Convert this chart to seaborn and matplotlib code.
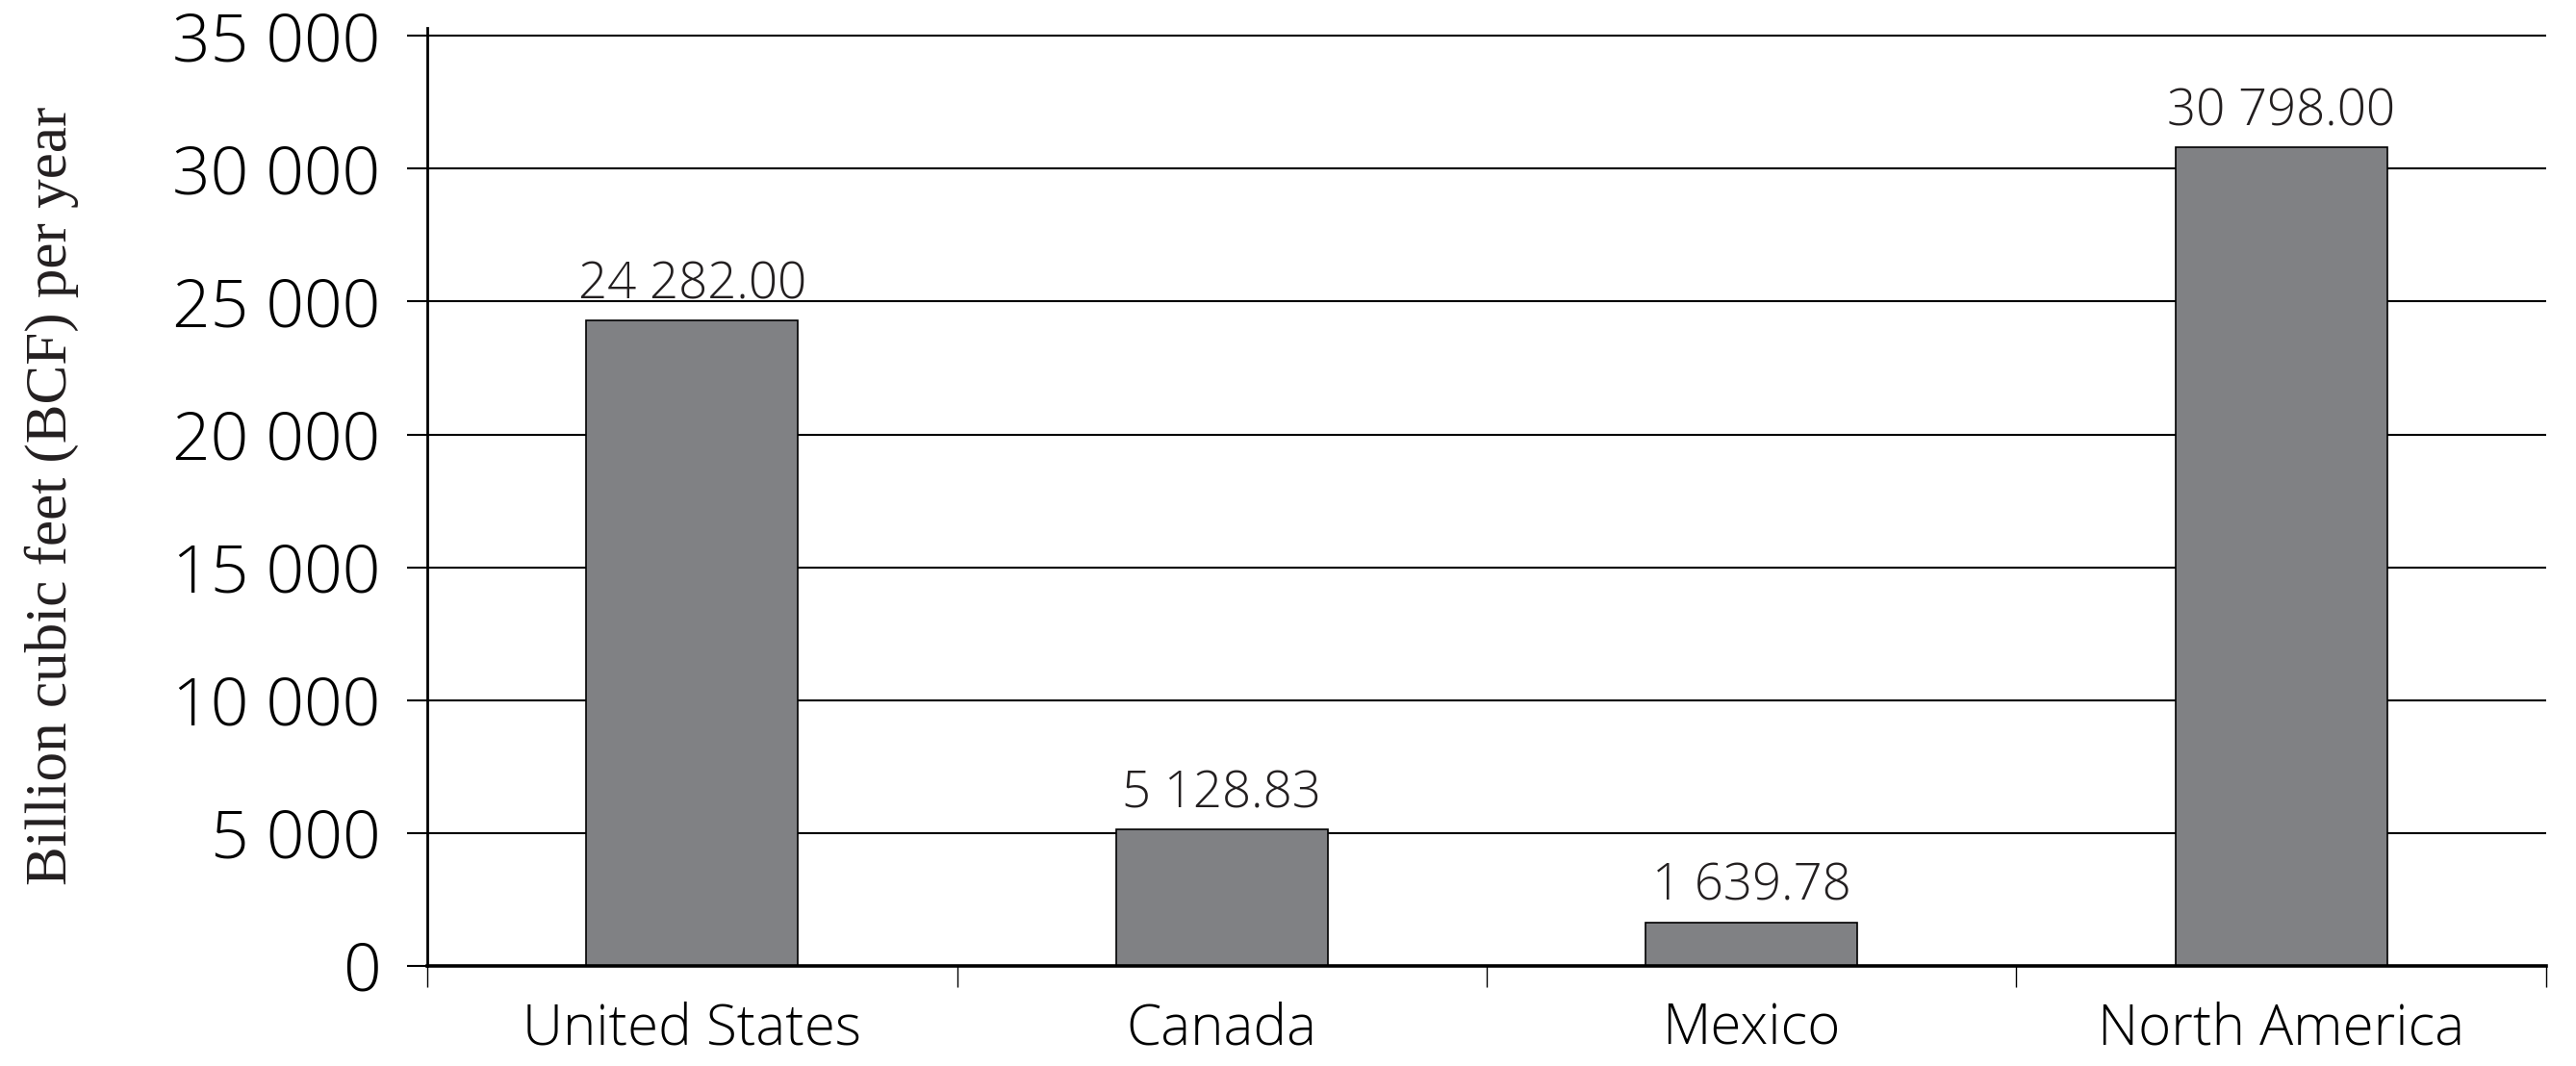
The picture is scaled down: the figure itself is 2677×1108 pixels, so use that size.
import matplotlib
matplotlib.use("Agg")
import matplotlib.pyplot as plt
import seaborn as sns
import pandas as pd
import numpy as np

categories = ["United States", "Canada", "Mexico", "North America"]
values = [24282.00, 5128.83, 1639.78, 30798.00]
yticks = [0, 5000, 10000, 15000, 20000, 25000, 30000, 35000]
ylabel = "Billion cubic feet (BCF) per year"

def fmt(v, dec=0):
    s = f"{v:,.{dec}f}"
    return s.replace(",", " ")

sns.set_theme(style="white")
plt.rcParams['font.family'] = ['Open Sans', 'DejaVu Sans']

fig = plt.figure(figsize=(26.77, 11.08), dpi=100)
ax = fig.add_axes([0.1659, 0.0939, 0.9884 - 0.1659, 0.9738 - 0.0939])

df = pd.DataFrame({"cat": categories, "val": values})
sns.barplot(data=df, x="cat", y="val", color="#808184", saturation=1,
            width=0.4, edgecolor="black", linewidth=1.2, ax=ax, zorder=3)

ax.set_xlim(-0.5, 3.5)
ax.set_ylim(0, 35300)
ax.set_yticks(yticks)
ax.set_yticklabels([fmt(t) for t in yticks], fontsize=50, fontweight="light")
ax.yaxis.grid(True, color="black", linewidth=1.5)
ax.set_axisbelow(True)

ax.set_xticks(range(len(categories)))
ax.set_xticklabels(categories, fontsize=42, fontweight="light")
ax.set_xticks(np.arange(-0.5, len(categories), 1.0), minor=True)
ax.tick_params(axis="x", which="major", length=0, pad=26, colors="black")
ax.tick_params(axis="x", which="minor", bottom=True, direction="out", length=16, width=1.0, color="black")
ax.tick_params(axis="y", which="major", left=True, direction="out", length=15, width=1.5, pad=20, colors="black")

for s in ["top", "right"]:
    ax.spines[s].set_visible(False)
ax.spines["left"].set_color("black")
ax.spines["left"].set_linewidth(2.0)
ax.spines["bottom"].set_color("black")
ax.spines["bottom"].set_linewidth(2.6)
ax.spines["bottom"].set_zorder(4)

ax.bar_label(ax.containers[0], labels=[fmt(v, 2) for v in values],
             padding=7, fontsize=38, fontweight="light", color="#231f20")

ax.set_xlabel("")
ax.set_ylabel("")
fig.text(0.020, 0.535, ylabel, rotation=90, ha="center", va="center",
         fontsize=44, family=["Liberation Serif", "DejaVu Serif"], color="#231f20")

fig.savefig("out.png", dpi=100, facecolor="white")
